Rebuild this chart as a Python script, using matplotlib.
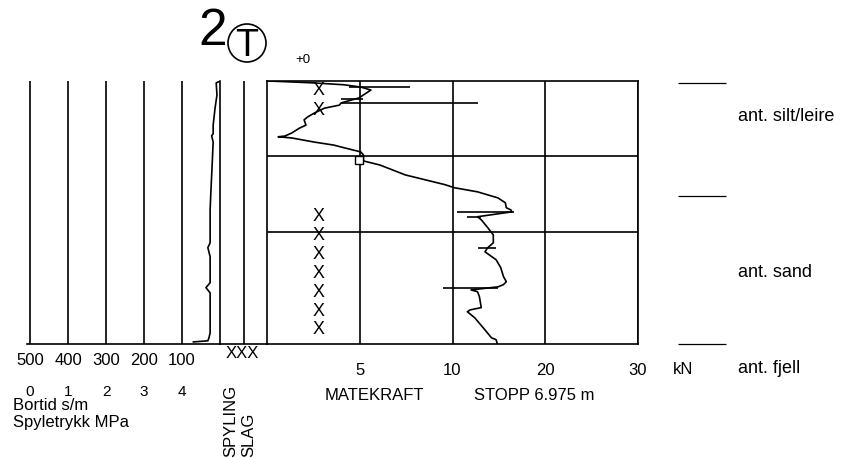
import numpy as np
import matplotlib
matplotlib.use("Agg")
import matplotlib.pyplot as plt
from matplotlib import font_manager
from matplotlib.patches import Circle

W, H = 844, 458

# feed force (matekraft) trace, depth in m downwards, force in kN
force_depth = [0.0, 0.05, 0.10, 0.16, 0.24, 0.37, 0.45, 0.58, 0.64, 0.72,
               0.85, 0.95, 1.03, 1.17, 1.25, 1.38, 1.46, 1.48, 1.51, 1.62,
               1.70, 1.77, 1.88, 1.96, 2.12, 2.23, 2.49, 2.75, 2.83, 2.94,
               3.10, 3.23, 3.36, 3.42, 3.47, 3.60, 3.68, 3.89, 4.08, 4.29,
               4.42, 4.53, 4.74, 4.95, 5.19, 5.32, 5.40, 5.46, 5.54, 5.59,
               5.72, 6.01, 6.07, 6.12, 6.28, 6.60, 6.81, 6.86, 6.94, 6.975]
force_kn = [0.1, 2.5, 4.15, 5.05, 5.6, 5.2, 4.95, 4.0, 3.9, 3.1,
            2.55, 2.2, 2.0, 2.1, 1.75, 1.33, 0.96, 0.6, 1.33, 2.55,
            3.6, 4.15, 5.05, 5.2, 5.2, 6.1, 7.45, 9.6, 10.2, 12.7,
            14.9, 15.7, 15.8, 16.3, 16.4, 12.7, 13.1, 13.8, 14.4, 14.4,
            13.8, 13.5, 14.7, 15.2, 15.5, 15.8, 15.5, 14.9, 12.0, 12.7,
            12.9, 13.1, 11.9, 11.6, 12.4, 13.5, 14.2, 14.7, 14.8, 14.8]

# short spikes in the force trace
spike_depth = [0.16, 0.48, 0.58, 3.47, 3.60, 4.42, 5.48]
spike_lo = [4.4, 4.0, 4.0, 10.5, 11.6, 12.7, 9.5]
spike_hi = [7.7, 5.2, 12.7, 16.6, 13.1, 14.7, 14.9]

# hammering (slag) marks
slag_depth = [0.24, 0.77, 3.6, 4.1, 4.6, 5.1, 5.6, 6.1, 6.6]
slag_kn = 2.77

square_kn = 4.97
square_depth = 2.1

# bortid s/m
bortid_depth = [0.0, 0.05, 0.37, 0.72, 1.17, 1.40, 1.45, 1.62, 2.30, 2.94,
                3.42, 4.29, 4.42, 4.66, 5.35, 5.48, 5.62, 6.68, 6.81, 6.89, 6.92]
bortid = [0, 10, 8, 13, 18, 18, 22, 18, 21, 24,
          26, 26, 32, 26, 26, 37, 26, 26, 29, 32, 70]

layer_depth = [0.05, 3.05, 6.975]
layer_label_depth = [0.95, 5.09, 7.63]
layer_names = ["ant. silt/leire", "ant. sand", "ant. fjell"]

stop_depth = 6.975
grid_depth = [2, 4]
kn_ticks = [5, 10, 20, 30]
bortid_ticks = [500, 400, 300, 200, 100]
trykk_ticks = [0, 1, 2, 3, 4]

names = {f.name for f in font_manager.fontManager.ttflist}
narrow = "Liberation Sans Narrow" if "Liberation Sans Narrow" in names else "Liberation Sans"
k = 1.0 if narrow == "Liberation Sans Narrow" else 0.92
plt.rcParams["font.family"] = ["Liberation Sans", "DejaVu Sans"]

LW = 1.2
TOP, BOT = 81, 344


def fx(px):
    return px / W


def fy(py):
    return 1 - py / H


fig = plt.figure(figsize=(W / 100, H / 100), dpi=100)


def panel(x0, x1):
    ax = fig.add_axes([fx(x0), fy(BOT), (x1 - x0) / W, (BOT - TOP) / H])
    ax.set_facecolor("none")
    return ax


# left panel: bortid / spyletrykk
axl = panel(27, 220)
axl.plot(bortid, bortid_depth, color="black", lw=LW)
axl.set_xlim(508, 0)
axl.set_ylim(stop_depth, 0)
axl.set_xticks(bortid_ticks)
axl.set_xticklabels([str(v) for v in bortid_ticks], fontsize=13 * k, family=narrow)
axl.tick_params(axis="x", length=0, pad=6.5)
axl.set_yticks([])
axl.grid(axis="x", color="black", lw=LW)
for s in ["top", "left"]:
    axl.spines[s].set_visible(False)
for s in ["right", "bottom"]:
    axl.spines[s].set_linewidth(LW)
for p in trykk_ticks:
    axl.text(500 - 100 * p, (BOT - 392) / (BOT - TOP), str(p),
             transform=axl.get_xaxis_transform(), ha="center", va="center",
             fontsize=12 * k, family=narrow)

# spyling / slag columns
axc = panel(220, 267)
axc.set_xlim(0, 2)
axc.set_ylim(stop_depth, 0)
axc.axvline(1, color="black", lw=LW)
axc.set_xticks([])
axc.set_yticks([])
for s in ["top", "left", "right"]:
    axc.spines[s].set_visible(False)
axc.spines["bottom"].set_linewidth(LW)


# main panel: matekraft, piecewise linear kN axis
def fwd(x):
    return np.interp(x, [0, 10, 30], [0, 1, 2])


def inv(x):
    return np.interp(x, [0, 1, 2], [0, 10, 30])


axm = panel(267, 638)
axm.set_xscale("function", functions=(fwd, inv))
axm.set_xlim(0, 30)
axm.set_ylim(stop_depth, 0)
axm.plot(force_kn, force_depth, color="black", lw=LW)
axm.hlines(spike_depth, spike_lo, spike_hi, color="black", lw=LW)
for d in slag_depth:
    axm.text(slag_kn, d, "X", ha="center", va="center", fontsize=14 * k, family=narrow)
axm.plot([square_kn], [square_depth], marker="s", ms=6, mfc="white", mec="black", mew=1)
axm.set_xticks(kn_ticks)
axm.set_xticklabels([str(v) for v in kn_ticks], fontsize=13 * k, family=narrow)
axm.xaxis.set_minor_locator(matplotlib.ticker.NullLocator())
axm.tick_params(axis="x", length=0, pad=13.5)
axm.set_yticks(grid_depth)
axm.tick_params(axis="y", length=0, labelleft=False)
axm.grid(color="black", lw=LW)
for s in axm.spines.values():
    s.set_linewidth(LW)

# soil layers on the right
axr = fig.add_axes([fx(678), fy(BOT), (W - 678) / W, (BOT - TOP) / H])
axr.set_xlim(0, W - 678)
axr.set_ylim(stop_depth, 0)
axr.axis("off")
axr.hlines(layer_depth, 0, 48, color="black", lw=0.9, clip_on=False)
for d, name in zip(layer_label_depth, layer_names):
    axr.text(60, d, name, va="center", ha="left", fontsize=13, clip_on=False)

# header
fig.text(fx(198), fy(45), "2", fontsize=37, va="baseline", ha="left")
fig.add_artist(Circle((2.47, (H - 43) / 100), 0.19, transform=fig.dpi_scale_trans,
                      fill=False, lw=1.2, color="black"))
fig.text(fx(247), fy(56), "T", fontsize=27, va="baseline", ha="center")
fig.text(fx(303), fy(60), "+0", fontsize=9.5, va="center", ha="center")

# bottom texts
fig.text(fx(242), fy(353), "XXX", fontsize=13 * k, family=narrow, ha="center", va="center")
fig.text(fx(683), fy(369), "kN", fontsize=13 * k, family=narrow, ha="center", va="center")
fig.text(fx(374), fy(396), "MATEKRAFT", fontsize=13 * k, family=narrow, ha="center", va="center")
fig.text(fx(534), fy(396), "STOPP {:.3f} m".format(stop_depth), fontsize=13 * k,
         family=narrow, ha="center", va="center")
fig.text(fx(13), fy(406), "Bortid s/m", fontsize=13 * k, family=narrow, ha="left", va="center")
fig.text(fx(13), fy(422), "Spyletrykk MPa", fontsize=13 * k, family=narrow, ha="left", va="center")
fig.text(fx(231), fy(457), "SPYLING", fontsize=13 * k, family=narrow, rotation=90,
         ha="center", va="bottom")
fig.text(fx(249), fy(457), "SLAG", fontsize=13 * k, family=narrow, rotation=90,
         ha="center", va="bottom")

fig.savefig("out.png", dpi=100)
